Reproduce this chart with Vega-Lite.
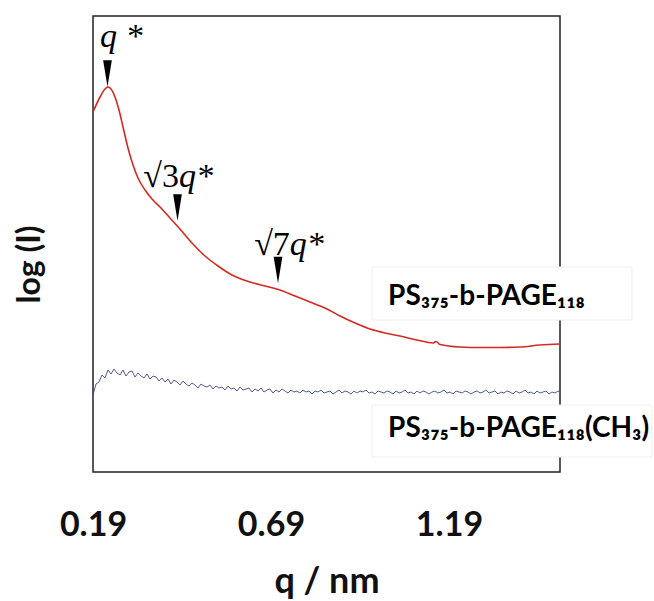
{
  "$schema": "https://vega.github.io/schema/vega-lite/v6.json",
  "width": 467,
  "height": 456,
  "autosize": {"type": "none"},
  "padding": {"left": 93, "top": 16, "right": 94, "bottom": 129},
  "background": "white",
  "config": {
    "view": {"stroke": "#222222", "strokeWidth": 1.5},
    "axis": {"grid": false, "domain": false, "ticks": false}
  },
  "datasets": {
    "red": [
      {"q": 0.19, "v": 3.60}, {"q": 0.2097, "v": 3.75}, {"q": 0.2237, "v": 3.83}, {"q": 0.2321, "v": 3.85},
      {"q": 0.2406, "v": 3.83}, {"q": 0.2518, "v": 3.75}, {"q": 0.263, "v": 3.62}, {"q": 0.2743, "v": 3.45},
      {"q": 0.2883, "v": 3.24}, {"q": 0.3024, "v": 3.07}, {"q": 0.3164, "v": 2.94}, {"q": 0.3361, "v": 2.82},
      {"q": 0.3557, "v": 2.73}, {"q": 0.3782, "v": 2.65}, {"q": 0.4063, "v": 2.54}, {"q": 0.4344, "v": 2.43},
      {"q": 0.4681, "v": 2.29}, {"q": 0.5046, "v": 2.16}, {"q": 0.5411, "v": 2.06}, {"q": 0.5804, "v": 1.97},
      {"q": 0.631, "v": 1.90}, {"q": 0.6731, "v": 1.86}, {"q": 0.7153, "v": 1.82}, {"q": 0.7574, "v": 1.76},
      {"q": 0.7996, "v": 1.70}, {"q": 0.8417, "v": 1.64}, {"q": 0.8838, "v": 1.56}, {"q": 0.926, "v": 1.49},
      {"q": 0.9681, "v": 1.43}, {"q": 1.0102, "v": 1.39}, {"q": 1.0524, "v": 1.36}, {"q": 1.1001, "v": 1.32},
      {"q": 1.1451, "v": 1.29}, {"q": 1.1535, "v": 1.305}, {"q": 1.1647, "v": 1.275}, {"q": 1.2209, "v": 1.25},
      {"q": 1.2771, "v": 1.245}, {"q": 1.3333, "v": 1.245}, {"q": 1.3894, "v": 1.25}, {"q": 1.4456, "v": 1.27},
      {"q": 1.5018, "v": 1.28}
    ],
    "blue": [
      {"q": 0.19, "v": 0.77}, {"q": 0.1984, "v": 0.88}, {"q": 0.2069, "v": 0.90}, {"q": 0.2153, "v": 0.97},
      {"q": 0.2237, "v": 0.94}, {"q": 0.2321, "v": 1.02}, {"q": 0.2406, "v": 0.98}, {"q": 0.249, "v": 1.03},
      {"q": 0.2574, "v": 0.99}, {"q": 0.2658, "v": 0.97}, {"q": 0.2743, "v": 1.02}, {"q": 0.2827, "v": 0.96},
      {"q": 0.2911, "v": 1.00}, {"q": 0.2996, "v": 1.01}, {"q": 0.308, "v": 0.95}, {"q": 0.3164, "v": 0.99},
      {"q": 0.3248, "v": 0.96}, {"q": 0.3333, "v": 0.94}, {"q": 0.3417, "v": 0.98}, {"q": 0.3501, "v": 0.93},
      {"q": 0.3585, "v": 0.96}, {"q": 0.367, "v": 0.95}, {"q": 0.3754, "v": 0.91}, {"q": 0.3838, "v": 0.94},
      {"q": 0.3922, "v": 0.90}, {"q": 0.4007, "v": 0.93}, {"q": 0.4091, "v": 0.88}, {"q": 0.4175, "v": 0.92},
      {"q": 0.426, "v": 0.90}, {"q": 0.4344, "v": 0.87}, {"q": 0.4428, "v": 0.91}, {"q": 0.4512, "v": 0.88},
      {"q": 0.4597, "v": 0.86}, {"q": 0.4681, "v": 0.89}, {"q": 0.4765, "v": 0.87}, {"q": 0.4849, "v": 0.84},
      {"q": 0.4934, "v": 0.88}, {"q": 0.5018, "v": 0.86}, {"q": 0.5102, "v": 0.85}, {"q": 0.5187, "v": 0.87},
      {"q": 0.5271, "v": 0.83}, {"q": 0.5355, "v": 0.86}, {"q": 0.5439, "v": 0.84}, {"q": 0.5524, "v": 0.85},
      {"q": 0.5608, "v": 0.82}, {"q": 0.5692, "v": 0.86}, {"q": 0.5776, "v": 0.83}, {"q": 0.5861, "v": 0.84},
      {"q": 0.5945, "v": 0.81}, {"q": 0.6029, "v": 0.85}, {"q": 0.6114, "v": 0.82}, {"q": 0.6198, "v": 0.83},
      {"q": 0.6282, "v": 0.84}, {"q": 0.6366, "v": 0.80}, {"q": 0.6451, "v": 0.83}, {"q": 0.6535, "v": 0.81},
      {"q": 0.6619, "v": 0.84}, {"q": 0.6703, "v": 0.80}, {"q": 0.6788, "v": 0.82}, {"q": 0.6872, "v": 0.83},
      {"q": 0.6956, "v": 0.79}, {"q": 0.704, "v": 0.82}, {"q": 0.7125, "v": 0.80}, {"q": 0.7209, "v": 0.83},
      {"q": 0.7293, "v": 0.81}, {"q": 0.7378, "v": 0.79}, {"q": 0.7462, "v": 0.82}, {"q": 0.7546, "v": 0.80},
      {"q": 0.763, "v": 0.81}, {"q": 0.7715, "v": 0.79}, {"q": 0.7799, "v": 0.82}, {"q": 0.7883, "v": 0.80},
      {"q": 0.7967, "v": 0.81}, {"q": 0.8052, "v": 0.78}, {"q": 0.8136, "v": 0.81}, {"q": 0.822, "v": 0.80},
      {"q": 0.8305, "v": 0.82}, {"q": 0.8389, "v": 0.79}, {"q": 0.8473, "v": 0.80}, {"q": 0.8557, "v": 0.81},
      {"q": 0.8642, "v": 0.78}, {"q": 0.8726, "v": 0.80}, {"q": 0.881, "v": 0.82}, {"q": 0.8894, "v": 0.79},
      {"q": 0.8979, "v": 0.81}, {"q": 0.9063, "v": 0.80}, {"q": 0.9147, "v": 0.78}, {"q": 0.9231, "v": 0.81},
      {"q": 0.9316, "v": 0.79}, {"q": 0.94, "v": 0.81}, {"q": 0.9484, "v": 0.80}, {"q": 0.9569, "v": 0.82},
      {"q": 0.9653, "v": 0.79}, {"q": 0.9737, "v": 0.80}, {"q": 0.9821, "v": 0.78}, {"q": 0.9906, "v": 0.81},
      {"q": 0.999, "v": 0.80}, {"q": 1.0074, "v": 0.79}, {"q": 1.0158, "v": 0.81}, {"q": 1.0243, "v": 0.80},
      {"q": 1.0327, "v": 0.78}, {"q": 1.0411, "v": 0.81}, {"q": 1.0496, "v": 0.79}, {"q": 1.058, "v": 0.80},
      {"q": 1.0664, "v": 0.82}, {"q": 1.0748, "v": 0.79}, {"q": 1.0833, "v": 0.80}, {"q": 1.0917, "v": 0.78},
      {"q": 1.1001, "v": 0.81}, {"q": 1.1085, "v": 0.79}, {"q": 1.117, "v": 0.81}, {"q": 1.1254, "v": 0.80},
      {"q": 1.1338, "v": 0.78}, {"q": 1.1423, "v": 0.80}, {"q": 1.1507, "v": 0.81}, {"q": 1.1591, "v": 0.79},
      {"q": 1.1675, "v": 0.80}, {"q": 1.176, "v": 0.82}, {"q": 1.1844, "v": 0.79}, {"q": 1.1928, "v": 0.80},
      {"q": 1.2012, "v": 0.78}, {"q": 1.2097, "v": 0.81}, {"q": 1.2181, "v": 0.80}, {"q": 1.2265, "v": 0.79},
      {"q": 1.235, "v": 0.81}, {"q": 1.2434, "v": 0.80}, {"q": 1.2518, "v": 0.78}, {"q": 1.2602, "v": 0.80},
      {"q": 1.2687, "v": 0.81}, {"q": 1.2771, "v": 0.79}, {"q": 1.2855, "v": 0.80}, {"q": 1.2939, "v": 0.82},
      {"q": 1.3024, "v": 0.79}, {"q": 1.3108, "v": 0.80}, {"q": 1.3192, "v": 0.81}, {"q": 1.3276, "v": 0.78},
      {"q": 1.3361, "v": 0.80}, {"q": 1.3445, "v": 0.79}, {"q": 1.3529, "v": 0.81}, {"q": 1.3614, "v": 0.80},
      {"q": 1.3698, "v": 0.78}, {"q": 1.3782, "v": 0.81}, {"q": 1.3866, "v": 0.79}, {"q": 1.3951, "v": 0.80},
      {"q": 1.4035, "v": 0.82}, {"q": 1.4119, "v": 0.79}, {"q": 1.4203, "v": 0.80}, {"q": 1.4288, "v": 0.78},
      {"q": 1.4372, "v": 0.81}, {"q": 1.4456, "v": 0.79}, {"q": 1.4541, "v": 0.80}, {"q": 1.4625, "v": 0.81},
      {"q": 1.4709, "v": 0.78}, {"q": 1.4793, "v": 0.80}, {"q": 1.4878, "v": 0.79}, {"q": 1.4962, "v": 0.81},
      {"q": 1.5018, "v": 0.80}
    ],
    "markers": [
      {"q": 0.2307, "v": 3.985},
      {"q": 0.4274, "v": 2.645},
      {"q": 0.7097, "v": 2.02}
    ],
    "italicText": [
      {"q": 0.2097, "v": 4.25, "t": "q *"},
      {"q": 0.4316, "v": 2.85, "t": "q*"},
      {"q": 0.743, "v": 2.17, "t": "q*"}
    ],
    "rootText": [
      {"q": 0.4316, "v": 2.85, "t": "√3"},
      {"q": 0.743, "v": 2.17, "t": "√7"}
    ],
    "boxes": [
      {"q1": 0.974, "q2": 1.704, "v1": 2.05, "v2": 1.52},
      {"q1": 0.974, "q2": 1.76, "v1": 0.67, "v2": 0.15}
    ],
    "labels": [
      {"q": 1.019, "v": 1.67, "t": "PS₃₇₅-b-PAGE₁₁₈"},
      {"q": 1.019, "v": 0.35, "t": "PS₃₇₅-b-PAGE₁₁₈(CH₃)"}
    ]
  },
  "encoding": {
    "x": {
      "field": "q", "type": "quantitative",
      "scale": {"domain": [0.19, 1.5018], "nice": false, "zero": false},
      "axis": {
        "values": [0.19, 0.69, 1.19], "format": ".2f",
        "labelFont": "Lato", "labelFontSize": 34, "labelFontWeight": "bold", "labelColor": "#111",
        "labelBaseline": "alphabetic", "labelPadding": 63, "labelFlush": false, "labelOverlap": false,
        "title": "q / nm", "titleFont": "Lato", "titleFontSize": 36, "titleFontWeight": "bold", "titleColor": "#111",
        "titleBaseline": "alphabetic", "titleY": 120
      }
    },
    "y": {
      "field": "v", "type": "quantitative",
      "scale": {"domain": [0, 4.56], "nice": false, "zero": false},
      "axis": {
        "labels": false,
        "title": "log (I)", "titleFont": "Lato", "titleFontSize": 32, "titleFontWeight": "bold", "titleColor": "#111",
        "titleAngle": 270, "titleBaseline": "middle", "titleAlign": "center", "titleX": -64, "titleY": 248
      }
    }
  },
  "layer": [
    {
      "data": {"name": "boxes"},
      "mark": {"type": "rect", "fill": "white", "stroke": "#eeeeee", "strokeWidth": 1, "clip": false},
      "encoding": {
        "x": {"field": "q1", "type": "quantitative"},
        "x2": {"field": "q2"},
        "y": {"field": "v1", "type": "quantitative"},
        "y2": {"field": "v2"}
      }
    },
    {
      "data": {"name": "red"},
      "mark": {"type": "line", "color": "#d42a24", "strokeWidth": 1.6, "interpolate": "monotone"}
    },
    {
      "data": {"name": "blue"},
      "mark": {"type": "line", "color": "#3d4c8e", "strokeWidth": 0.9}
    },
    {
      "data": {"name": "markers"},
      "mark": {"type": "point", "shape": "M-0.33,-1L0.33,-1L0,1Z", "filled": true, "color": "black", "size": 700, "opacity": 1}
    },
    {
      "data": {"name": "italicText"},
      "mark": {"type": "text", "font": "Liberation Serif", "fontStyle": "italic", "fontSize": 34, "align": "left", "baseline": "alphabetic", "color": "black"},
      "encoding": {"text": {"field": "t"}}
    },
    {
      "data": {"name": "rootText"},
      "mark": {"type": "text", "font": "Liberation Serif", "fontSize": 34, "align": "right", "baseline": "alphabetic", "color": "black"},
      "encoding": {"text": {"field": "t"}}
    },
    {
      "data": {"name": "labels"},
      "mark": {"type": "text", "font": "Lato", "fontWeight": "bold", "fontSize": 28, "align": "left", "baseline": "alphabetic", "color": "black"},
      "encoding": {"text": {"field": "t"}}
    }
  ]
}
